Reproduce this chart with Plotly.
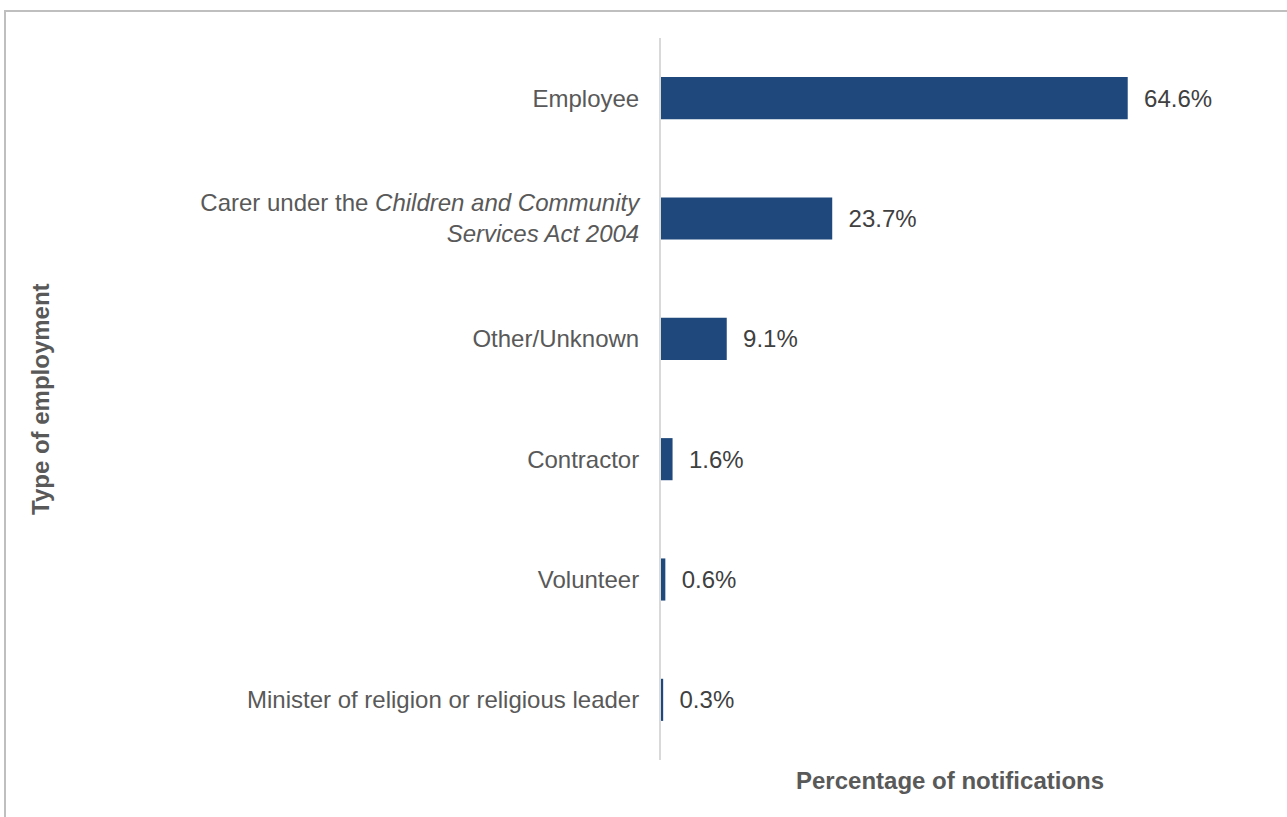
import plotly.graph_objects as go

categories = [
    "Employee",
    "Carer under the <i>Children and Community</i><br><i>Services Act 2004</i>",
    "Other/Unknown",
    "Contractor",
    "Volunteer",
    "Minister of religion or religious leader",
]
values = [64.6, 23.7, 9.1, 1.6, 0.6, 0.3]
labels = [f"\u00a0\u00a0{v:.1f}%" for v in values]

W, H = 1287, 817
L, R, T, B = 661, 48, 38, 57
PW, PH = W - L - R, H - T - B

def px_x(p):
    return (p - L) / PW

def px_y(p):
    return (H - B - p) / PH

font_family = "Liberation Sans"
FS = 24

fig = go.Figure(
    go.Bar(
        x=values,
        y=categories,
        orientation="h",
        marker=dict(color="#1F497D", line=dict(width=0)),
        text=labels,
        textposition="outside",
        cliponaxis=False,
        textfont=dict(family=font_family, size=FS, color="#404040"),
        hoverinfo="skip",
    )
)

fig.update_layout(
    width=W,
    height=H,
    margin=dict(l=L, r=R, t=T, b=B, pad=0),
    paper_bgcolor="white",
    plot_bgcolor="white",
    bargap=0.65,
    showlegend=False,
    font=dict(family=font_family, size=FS, color="#595959"),
    xaxis=dict(
        range=[0, 80],
        showticklabels=False,
        showgrid=False,
        zeroline=False,
        showline=False,
        ticks="",
    ),
    yaxis=dict(
        categoryorder="array",
        categoryarray=categories,
        autorange="reversed",
        showgrid=False,
        zeroline=False,
        showline=True,
        linecolor="#D9D9D9",
        linewidth=2,
        ticks="outside",
        ticklen=15,
        tickcolor="rgba(0,0,0,0)",
        tickfont=dict(family=font_family, size=FS, color="#595959"),
    ),
    annotations=[
        dict(
            text="<b>Type of employment</b>",
            xref="paper", yref="paper",
            x=px_x(40), y=0.5,
            xanchor="center", yanchor="middle",
            textangle=-90, showarrow=False,
            font=dict(family=font_family, size=FS, color="#595959"),
        ),
        dict(
            text="<b>Percentage of notifications</b>",
            xref="paper", yref="paper",
            x=0.5, y=px_y(780),
            xanchor="center", yanchor="middle",
            showarrow=False,
            font=dict(family=font_family, size=FS, color="#595959"),
        ),
    ],
    shapes=[
        dict(
            type="rect",
            xref="paper", yref="paper",
            x0=px_x(5), x1=px_x(W + 20),
            y0=px_y(H + 20), y1=px_y(11),
            line=dict(color="#BFBFBF", width=2),
            fillcolor="rgba(0,0,0,0)",
            layer="below",
        )
    ],
)

fig.write_html("out.html")
